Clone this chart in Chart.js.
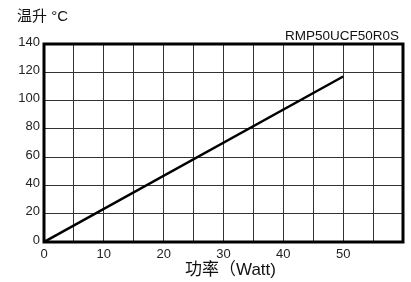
<!DOCTYPE html>
<html>
<head>
<meta charset="utf-8">
<script src="https://cdn.jsdelivr.net/npm/chart.js@4/dist/chart.umd.min.js"></script>
<style>
  html, body { margin: 0; padding: 0; background: #fff; }
  #wrap { position: relative; width: 411px; height: 282px; font-family: "Liberation Sans", Arial, "Noto Sans CJK SC", sans-serif; color: #111; }
  #c { position: absolute; left: 0; top: 0; }
  .t { position: absolute; white-space: nowrap; line-height: 1; }
</style>
</head>
<body>
<div id="wrap">
  <canvas id="c" width="411" height="282"></canvas>
  <div class="t" id="ytitle" style="left:17px; top:8px; font-size:15px;">温升 °C</div>
  <div class="t" id="model" style="right:12px; top:29px; font-size:13.5px;">RMP50UCF50R0S</div>
  <div class="t" id="xtitle" style="left:185px; top:261px; font-size:17px;">功率（Watt)</div>
</div>
<script>
const powerWatt = [0, 50];
const tempRise = [0, 117];
const xTickLabels = [0, 10, 20, 30, 40, 50];
const yTickLabels = [0, 20, 40, 60, 80, 100, 120, 140];

const points = powerWatt.map((x, i) => ({ x: x, y: tempRise[i] }));

const frame = {
  id: 'frame',
  afterDatasetsDraw(chart) {
    const a = chart.chartArea, ctx = chart.ctx;
    ctx.save();
    ctx.strokeStyle = '#000';
    ctx.lineWidth = 3;
    ctx.strokeRect(a.left, a.top, a.right - a.left, a.bottom - a.top);
    ctx.restore();
  }
};

new Chart(document.getElementById('c'), {
  type: 'scatter',
  data: {
    datasets: [{
      data: points,
      showLine: true,
      borderColor: '#000',
      borderWidth: 2.5,
      pointRadius: 0,
      fill: false
    }]
  },
  options: {
    responsive: false,
    animation: false,
    devicePixelRatio: 1,
    layout: { padding: { left: 0, right: 8, top: 44, bottom: 0 } },
    plugins: { legend: { display: false }, tooltip: { enabled: false } },
    scales: {
      x: {
        type: 'linear', min: 0, max: 60,
        grid: { color: '#333', lineWidth: 1, drawTicks: false },
        border: { display: false },
        afterFit(s) { s.height = 40; },
        ticks: {
          stepSize: 5, padding: 5, color: '#222', maxRotation: 0, autoSkip: false,
          font: { size: 13, family: '"Liberation Sans", Arial, sans-serif' },
          callback: v => (xTickLabels.includes(v) ? String(v) : '')
        }
      },
      y: {
        type: 'linear', min: 0, max: 140,
        grid: { color: '#333', lineWidth: 1, drawTicks: false },
        border: { display: false },
        afterFit(s) { s.width = 44; },
        ticks: {
          stepSize: 20, padding: 4, color: '#222', labelOffset: -2,
          font: { size: 13, family: '"Liberation Sans", Arial, sans-serif' },
          callback: v => (yTickLabels.includes(v) ? String(v) : '')
        }
      }
    }
  },
  plugins: [frame]
});
</script>
</body>
</html>
